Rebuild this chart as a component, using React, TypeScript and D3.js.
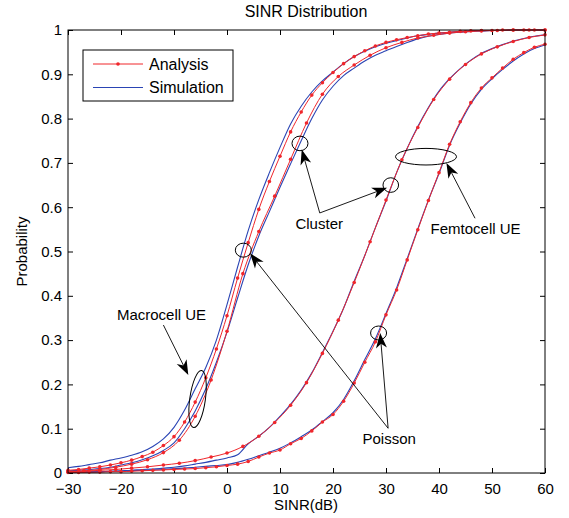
import { useEffect, useRef } from "react";
import * as d3 from "d3";

// SINR grids (dB)
const sinr2 = [
  -30, -28, -26, -24, -22, -20, -18, -16, -14, -12, -10, -8, -6, -4, -2, 0, 2, 4, 6, 8, 10, 12, 14, 16, 18,
  20, 22, 24, 26, 28, 30, 32, 34, 36, 38, 40, 42, 44, 46, 48, 50, 52, 54, 56, 58, 60,
];
const sinr3 = [
  -30, -27, -24, -21, -18, -15, -12, -9, -6, -3, 0, 3, 6, 9, 12, 15, 18, 21, 24, 27, 30, 33, 36, 39, 42, 45,
  48, 51, 54, 57, 60,
];

// Macrocell UE, left pair
const macroAAnalysis = [
  0.006, 0.008, 0.011, 0.014, 0.018, 0.023, 0.029, 0.037, 0.047, 0.062, 0.082, 0.115, 0.16, 0.215, 0.28,
  0.355, 0.44, 0.52, 0.595, 0.658, 0.715, 0.77, 0.815, 0.853, 0.881, 0.904, 0.924, 0.94, 0.953, 0.964,
  0.972, 0.978, 0.983, 0.987, 0.991, 0.993, 0.995, 0.997, 0.998, 0.999, 0.999, 1, 1, 1, 1, 1,
];
const macroASimulation = [
  0.012, 0.015, 0.019, 0.023, 0.029, 0.034, 0.04, 0.048, 0.06, 0.077, 0.103, 0.142, 0.19, 0.238, 0.3, 0.38,
  0.465, 0.547, 0.617, 0.678, 0.735, 0.788, 0.828, 0.86, 0.885, 0.905, 0.924, 0.94, 0.952, 0.962, 0.97,
  0.976, 0.982, 0.987, 0.99, 0.993, 0.995, 0.997, 0.998, 0.998, 0.999, 0.999, 1, 1, 1, 1,
];
// Macrocell UE, right pair
const macroBAnalysis = [
  0.003, 0.005, 0.008, 0.013, 0.02, 0.03, 0.046, 0.074, 0.128, 0.21, 0.32, 0.45, 0.545, 0.625, 0.708, 0.79,
  0.855, 0.895, 0.921, 0.943, 0.96, 0.972, 0.982, 0.988, 0.993, 0.996, 0.998, 0.999, 1, 1, 1,
];
const macroBSimulation = [
  0.005, 0.006, 0.008, 0.01, 0.013, 0.018, 0.023, 0.03, 0.039, 0.051, 0.068, 0.1, 0.14, 0.19, 0.25, 0.318,
  0.395, 0.47, 0.535, 0.59, 0.645, 0.698, 0.75, 0.8, 0.842, 0.873, 0.897, 0.914, 0.93, 0.943, 0.953,
  0.963, 0.972, 0.98, 0.986, 0.99, 0.993, 0.995, 0.997, 0.998, 0.999, 0.999, 1, 1, 1, 1,
];
// Femtocell UE, left pair
const femtoCAnalysis = [
  0.003, 0.004, 0.006, 0.008, 0.011, 0.014, 0.018, 0.022, 0.028, 0.036, 0.045, 0.06, 0.083, 0.114, 0.153,
  0.204, 0.27, 0.345, 0.43, 0.522, 0.616, 0.707, 0.78, 0.843, 0.889, 0.922, 0.946, 0.962, 0.974, 0.983,
  0.989,
];
const femtoCSimulation = [
  0.001, 0.002, 0.002, 0.003, 0.004, 0.005, 0.006, 0.008, 0.009, 0.011, 0.013, 0.016, 0.02, 0.024, 0.029,
  0.034, 0.041, 0.066, 0.083, 0.103, 0.128, 0.155, 0.187, 0.226, 0.272, 0.32, 0.372, 0.433, 0.491, 0.554,
  0.614, 0.678, 0.733, 0.782, 0.825, 0.862, 0.89, 0.913, 0.932, 0.947, 0.958, 0.967, 0.975, 0.981, 0.986,
  0.989,
];
// Femtocell UE, right pair
const femtoDAnalysis = [
  0.001, 0.001, 0.002, 0.002, 0.003, 0.003, 0.004, 0.005, 0.006, 0.007, 0.008, 0.009, 0.01, 0.012, 0.014,
  0.017, 0.02, 0.026, 0.036, 0.045, 0.052, 0.066, 0.078, 0.095, 0.115, 0.132, 0.162, 0.203, 0.25, 0.296,
  0.357, 0.413, 0.481, 0.549, 0.615, 0.678, 0.742, 0.793, 0.836, 0.869, 0.892, 0.914, 0.934, 0.949, 0.961,
  0.968,
];
const femtoDSimulation = [
  0.002, 0.002, 0.003, 0.003, 0.004, 0.004, 0.005, 0.006, 0.007, 0.008, 0.01, 0.011, 0.013, 0.015, 0.017,
  0.019, 0.024, 0.031, 0.039, 0.047, 0.056, 0.068, 0.082, 0.097, 0.116, 0.136, 0.166, 0.208, 0.256, 0.303,
  0.36, 0.418, 0.484, 0.551, 0.616, 0.676, 0.74, 0.79, 0.833, 0.866, 0.89, 0.911, 0.93, 0.946, 0.958,
  0.966,
];

const xTicks = [-30, -20, -10, 0, 10, 20, 30, 40, 50, 60];
const xTickLabels = ["\u221230", "\u221220", "\u221210", "0", "10", "20", "30", "40", "50", "60"];
const yTicks = [0, 0.1, 0.2, 0.3, 0.4, 0.5, 0.6, 0.7, 0.8, 0.9, 1];
const yTickLabels = ["0", "0.1", "0.2", "0.3", "0.4", "0.5", "0.6", "0.7", "0.8", "0.9", "1"];

const RED = "#f0262b";
const BLUE = "#2a44b4";
const FONT = "'Liberation Sans', Arial, Helvetica, sans-serif";

const App = () => {
  const svgRef = useRef<SVGSVGElement>(null);

  useEffect(() => {
    const W = 569;
    const H = 518;
    const margin = { top: 30, right: 24, bottom: 45, left: 68 };

    const x = d3.scaleLinear().domain([-30, 60]).range([margin.left, W - margin.right]);
    const y = d3.scaleLinear().domain([0, 1]).range([H - margin.bottom, margin.top]);

    const svg = d3.select(svgRef.current);
    svg.selectAll("*").remove();

    svg.append("rect").attr("width", W).attr("height", H).attr("fill", "#fff");

    // axes (ticks inward on all four sides)
    const styleAxis = (g: any) => {
      g.select(".domain").remove();
      g.selectAll("line").attr("stroke", "#000").attr("stroke-width", 1);
      g.selectAll("text").attr("font-size", 15).attr("font-family", FONT).attr("fill", "#000");
    };

    svg
      .append("g")
      .attr("transform", `translate(0,${y(0)})`)
      .call(
        d3
          .axisBottom(x)
          .tickValues(xTicks)
          .tickSizeInner(-5)
          .tickSizeOuter(0)
          .tickPadding(10)
          .tickFormat((d, i) => xTickLabels[i])
      )
      .call(styleAxis);

    svg
      .append("g")
      .attr("transform", `translate(0,${y(1)})`)
      .call(d3.axisTop(x).tickValues(xTicks).tickSizeInner(-5).tickSizeOuter(0).tickFormat(() => ""))
      .call(styleAxis);

    svg
      .append("g")
      .attr("transform", `translate(${x(-30)},0)`)
      .call(
        d3
          .axisLeft(y)
          .tickValues(yTicks)
          .tickSizeInner(-5)
          .tickSizeOuter(0)
          .tickPadding(6)
          .tickFormat((d, i) => yTickLabels[i])
      )
      .call(styleAxis);

    svg
      .append("g")
      .attr("transform", `translate(${x(60)},0)`)
      .call(d3.axisRight(y).tickValues(yTicks).tickSizeInner(-5).tickSizeOuter(0).tickFormat(() => ""))
      .call(styleAxis);

    // curves
    const line = d3
      .line<[number, number]>()
      .x((d) => x(d[0]))
      .y((d) => y(d[1]))
      .curve(d3.curveMonotoneX);

    const zip = (xs: number[], ys: number[]) => xs.map((v, i) => [v, ys[i]] as [number, number]);

    const plot = svg.append("g");
    const simSeries = [
      zip(sinr2, macroASimulation),
      zip(sinr2, macroBSimulation),
      zip(sinr2, femtoCSimulation),
      zip(sinr2, femtoDSimulation),
    ];
    const anaSeries = [
      zip(sinr2, macroAAnalysis),
      zip(sinr3, macroBAnalysis),
      zip(sinr3, femtoCAnalysis),
      zip(sinr2, femtoDAnalysis),
    ];

    simSeries.forEach((s) => {
      plot
        .append("path")
        .datum(s)
        .attr("d", line)
        .attr("fill", "none")
        .attr("stroke", BLUE)
        .attr("stroke-width", 1.1);
    });

    anaSeries.forEach((s) => {
      plot
        .append("path")
        .datum(s)
        .attr("d", line)
        .attr("fill", "none")
        .attr("stroke", RED)
        .attr("stroke-width", 1);
      plot
        .selectAll(null)
        .data(s)
        .enter()
        .append("circle")
        .attr("cx", (d) => x(d[0]))
        .attr("cy", (d) => y(d[1]))
        .attr("r", 1.8)
        .attr("fill", RED);
    });

    // frame
    svg
      .append("rect")
      .attr("x", x(-30))
      .attr("y", y(1))
      .attr("width", x(60) - x(-30))
      .attr("height", y(0) - y(1))
      .attr("fill", "none")
      .attr("stroke", "#000")
      .attr("stroke-width", 1);

    // annotations
    const ann = svg.append("g").attr("stroke", "#000").attr("fill", "none");

    const arrow = (s0: number, p0: number, s1: number, p1: number) => {
      const x0 = x(s0), y0 = y(p0), x1 = x(s1), y1 = y(p1);
      const len = Math.hypot(x1 - x0, y1 - y0);
      const ux = (x1 - x0) / len, uy = (y1 - y0) / len;
      const nx = -uy, ny = ux;
      const L = 15, Wd = 5.5;
      ann
        .append("line")
        .attr("x1", x0)
        .attr("y1", y0)
        .attr("x2", x1 - ux * L * 0.7)
        .attr("y2", y1 - uy * L * 0.7)
        .attr("stroke-width", 0.9);
      const bx = x1 - ux * L, by = y1 - uy * L;
      const pts = [
        [x1, y1],
        [bx + nx * Wd, by + ny * Wd],
        [x1 - ux * L * 0.72, y1 - uy * L * 0.72],
        [bx - nx * Wd, by - ny * Wd],
      ];
      ann
        .append("path")
        .attr("d", "M" + pts.map((p) => p.join(",")).join("L") + "Z")
        .attr("fill", "#000")
        .attr("stroke", "none");
    };

    const ellipse = (s: number, p: number, rx: number, ry: number, rot = 0) => {
      ann
        .append("ellipse")
        .attr("cx", x(s))
        .attr("cy", y(p))
        .attr("rx", rx)
        .attr("ry", ry)
        .attr("transform", `rotate(${rot},${x(s)},${y(p)})`)
        .attr("stroke-width", 1);
    };

    const label = (s: number, p: number, txt: string) => {
      svg
        .append("text")
        .attr("x", x(s))
        .attr("y", y(p))
        .attr("text-anchor", "middle")
        .attr("font-family", FONT)
        .attr("font-size", 15)
        .attr("fill", "#000")
        .text(txt);
    };

    // Cluster
    ellipse(13.77, 0.744, 8, 7.3);
    ellipse(30.9, 0.65, 7.8, 7.3);
    arrow(17.5, 0.587, 14.1, 0.73);
    arrow(17.5, 0.587, 30.2, 0.644);
    label(17.4, 0.551, "Cluster");

    // Poisson
    ellipse(3.08, 0.503, 8, 7);
    ellipse(28.6, 0.316, 8, 7);
    arrow(30.4, 0.101, 4.34, 0.496);
    arrow(30.4, 0.101, 28.9, 0.316);
    label(30.6, 0.065, "Poisson");

    // Femtocell UE
    ellipse(37.55, 0.714, 30.5, 8.3);
    arrow(46.8, 0.575, 41.4, 0.7);
    label(46.9, 0.54, "Femtocell UE");

    // Macrocell UE
    ellipse(-5.55, 0.167, 7.8, 28.8, 8);
    arrow(-12.0, 0.334, -7.3, 0.221);
    label(-12.35, 0.345, "Macrocell UE");

    // legend
    const lg = svg.append("g");
    lg.append("rect")
      .attr("x", 83)
      .attr("y", 50)
      .attr("width", 150)
      .attr("height", 51)
      .attr("fill", "#fff")
      .attr("stroke", "#000");
    const legendItems = [
      { name: "Analysis", color: RED, marker: true, yy: 64 },
      { name: "Simulation", color: BLUE, marker: false, yy: 87.5 },
    ];
    legendItems.forEach((it) => {
      lg.append("line")
        .attr("x1", 93)
        .attr("x2", 143)
        .attr("y1", it.yy)
        .attr("y2", it.yy)
        .attr("stroke", it.color)
        .attr("stroke-width", 1);
      if (it.marker) lg.append("circle").attr("cx", 118).attr("cy", it.yy).attr("r", 1.8).attr("fill", it.color);
      lg.append("text")
        .attr("x", 149)
        .attr("y", it.yy + 5.5)
        .attr("font-family", FONT)
        .attr("font-size", 16)
        .text(it.name);
    });

    // titles
    svg
      .append("text")
      .attr("x", 306)
      .attr("y", 17)
      .attr("text-anchor", "middle")
      .attr("font-family", FONT)
      .attr("font-size", 16)
      .text("SINR Distribution");

    svg
      .append("text")
      .attr("x", 306)
      .attr("y", 510)
      .attr("text-anchor", "middle")
      .attr("font-family", FONT)
      .attr("font-size", 15)
      .text("SINR(dB)");

    svg
      .append("text")
      .attr("transform", `translate(27,${(y(0) + y(1)) / 2}) rotate(-90)`)
      .attr("text-anchor", "middle")
      .attr("font-family", FONT)
      .attr("font-size", 15)
      .text("Probability");
  }, []);

  return (
    <svg
      ref={svgRef}
      width={569}
      height={518}
      style={{ position: "absolute", left: 0, top: 0, display: "block" }}
    ></svg>
  );
};

export default App;
